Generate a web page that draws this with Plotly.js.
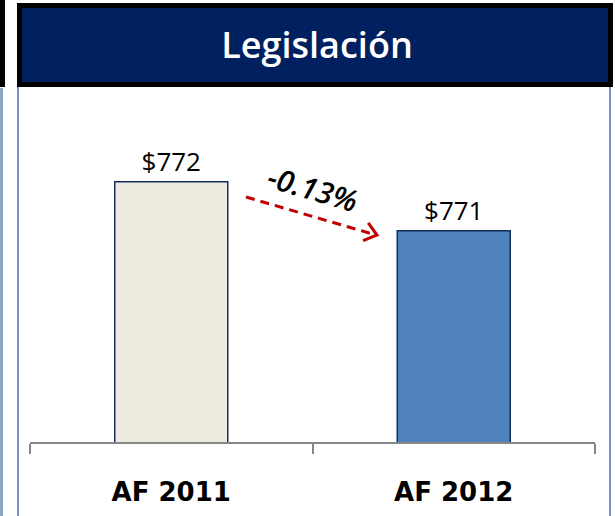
<!DOCTYPE html>
<html>
<head>
<meta charset="utf-8">
<script src="https://cdn.plot.ly/plotly-3.0.1.min.js"></script>
<style>
  html, body { margin: 0; padding: 0; background: #ffffff; }
  #chart { width: 615px; height: 516px; }
</style>
</head>
<body>
<div id="chart"></div>
<script>
// ---- data ----
const categories = ['AF 2011', 'AF 2012'];
const values = [772, 771];
const valueLabels = ['$772', '$771'];
const changeLabel = '-0.13%';
const chartTitle = 'Legislación';

// ---- layout geometry (pixels) ----
const W = 615, H = 516;
const M = { l: 30, r: 20, t: 100, b: 74 };
const plotW = W - M.l - M.r, plotH = H - M.t - M.b;
const px = x => (x - M.l) / plotW;          // pixel x -> paper x
const py = y => (H - M.b - y) / plotH;       // pixel y -> paper y

// arrow (pixel endpoints of the change indicator)
const a0 = [246, 197], a1 = [376, 235];
const dx = a1[0] - a0[0], dy = a1[1] - a0[1];
const len = Math.hypot(dx, dy), ux = dx / len, uy = dy / len;
const head = 15, ang = 38 * Math.PI / 180;
function rot(vx, vy, t) { return [vx * Math.cos(t) - vy * Math.sin(t), vx * Math.sin(t) + vy * Math.cos(t)]; }
const h1 = rot(-ux, -uy, ang), h2 = rot(-ux, -uy, -ang);
const tip = [a1[0] + 1, a1[1]];
const p1 = [tip[0] + h1[0] * head, tip[1] + h1[1] * head];
const p2 = [tip[0] + h2[0] * head, tip[1] + h2[1] * head];
const chevron = `M ${px(p1[0])} ${py(p1[1])} L ${px(tip[0])} ${py(tip[1])} L ${px(p2[0])} ${py(p2[1])}`;
const textAngle = Math.atan2(dy, dx) * 180 / Math.PI;

const trace = {
  type: 'bar',
  x: categories,
  y: values,
  text: valueLabels,
  texttemplate: '%{text}',
  textposition: 'outside',
  cliponaxis: false,
  textfont: { family: 'Open Sans, sans-serif', size: 26, color: '#000000' },
  marker: {
    color: ['#EEECE1', '#4F81BD'],
    line: { color: '#132F5E', width: 1.5 }
  },
  hoverinfo: 'skip'
};

const layout = {
  width: W, height: H,
  margin: { l: M.l, r: M.r, t: M.t, b: M.b, pad: 0 },
  paper_bgcolor: '#ffffff',
  plot_bgcolor: 'rgba(0,0,0,0)',
  showlegend: false,
  bargap: 0.6,
  title: {
    text: chartTitle,
    font: { family: 'Open Sans, sans-serif', size: 36, color: '#ffffff', weight: 600 },
    xref: 'container', yref: 'container',
    x: 317 / W, xanchor: 'center',
    y: 1 - 45 / H, yanchor: 'middle'
  },
  xaxis: {
    type: 'category',
    showline: true, linecolor: '#878787', linewidth: 2,
    ticks: 'outside', tickson: 'boundaries', ticklen: 10, tickwidth: 2, tickcolor: '#878787',
    tickfont: { family: 'DejaVu Sans, sans-serif', size: 26, color: '#000000', weight: 'bold' },
    ticklabelstandoff: 26,
    showgrid: false, zeroline: false, fixedrange: true
  },
  yaxis: {
    visible: false, range: [766.69, 773.67], showgrid: false, zeroline: false, fixedrange: true
  },
  shapes: [
    // left black strip (neighbouring panel edge)
    { type: 'rect', xref: 'paper', yref: 'paper', x0: px(0), x1: px(5), y0: py(87), y1: py(0),
      fillcolor: '#000000', line: { width: 0 }, layer: 'below' },
    { type: 'rect', xref: 'paper', yref: 'paper', x0: px(0), x1: px(3), y0: py(H), y1: py(88),
      fillcolor: '#8DA5C3', line: { width: 0 }, layer: 'below' },
    // panel side lines
    { type: 'line', xref: 'paper', yref: 'paper', x0: px(18), x1: px(18), y0: py(H), y1: py(86),
      line: { color: '#4A6EA8', width: 1.5 }, layer: 'below' },
    { type: 'line', xref: 'paper', yref: 'paper', x0: px(610), x1: px(610), y0: py(H), y1: py(86),
      line: { color: '#4A6EA8', width: 1.5 }, layer: 'below' },
    // header box
    { type: 'rect', xref: 'paper', yref: 'paper', x0: px(19.5), x1: px(610.5), y0: py(84.5), y1: py(5.5),
      fillcolor: '#002060', line: { color: '#000000', width: 5 }, layer: 'below' },
    // dashed change arrow
    { type: 'line', xref: 'paper', yref: 'paper', x0: px(a0[0]), y0: py(a0[1]), x1: px(a1[0] - ux * 2), y1: py(a1[1] - uy * 2),
      line: { color: '#C00000', width: 3, dash: '9px,6px' } },
    { type: 'path', xref: 'paper', yref: 'paper', path: chevron,
      line: { color: '#C00000', width: 3 } }
  ],
  annotations: [
    { xref: 'paper', yref: 'paper', x: px(313), y: py(188), xanchor: 'center', yanchor: 'middle',
      text: changeLabel, showarrow: false, textangle: textAngle,
      font: { family: 'Open Sans, sans-serif', size: 30, color: '#000000', style: 'italic', weight: 600 } }
  ]
};

Plotly.newPlot('chart', [trace], layout, { displayModeBar: false, staticPlot: true });
</script>
</body>
</html>
